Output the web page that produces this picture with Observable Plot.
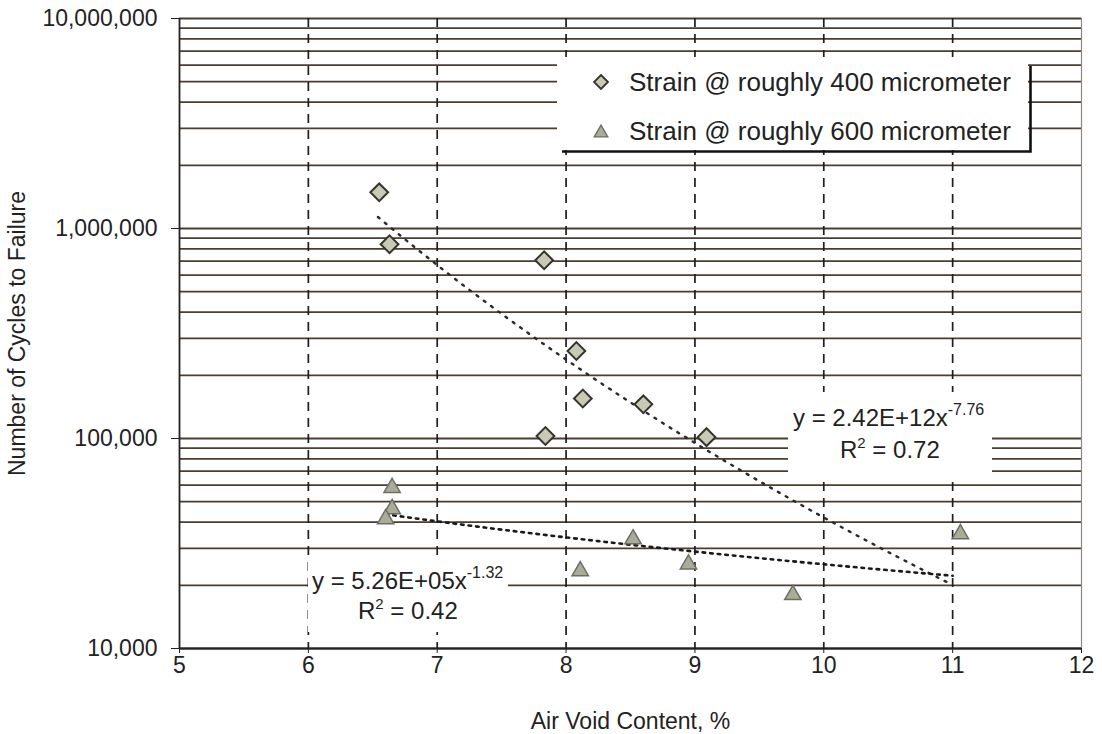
<!DOCTYPE html>
<html><head><meta charset="utf-8">
<script src="https://cdn.jsdelivr.net/npm/d3@7"></script>
<script src="https://cdn.jsdelivr.net/npm/@observablehq/plot@0.6"></script>
<style>
html,body{margin:0;padding:0;background:#fff;}
#chart{width:1102px;height:734px;}
</style></head><body><div id="chart"></div>
<script>
// ---- data ----
const seriesNames = ["Strain @ roughly 400 micrometer", "Strain @ roughly 600 micrometer"];
const airVoid400 = [6.55, 6.63, 7.83, 8.08, 8.13, 8.60, 7.84, 9.09];
const cycles400  = [1487000, 841000, 706000, 261000, 155000, 145500, 102800, 101500];
const airVoid600 = [6.65, 6.65, 6.60, 8.52, 8.11, 8.95, 9.76, 11.06];
const cycles600  = [58300, 46200, 41400, 33200, 23400, 25200, 18000, 35100];
// displayed power-law trendlines: y = a * x^b
const fitCoef400 = [2.42e12, -7.76];
const fitCoef600 = [5.26e5, -1.32];
const fitRange400 = [6.54, 11];
const fitRange600 = [6.6, 11];
const fitEq400 = ["y = 2.42E+12x", "-7.76", "0.72"];
const fitEq600 = ["y = 5.26E+05x", "-1.32", "0.42"];
const xTicks = [5, 6, 7, 8, 9, 10, 11, 12];
const xGridLines = [6, 7, 8, 9, 10, 11];
const yTicks = [1e4, 1e5, 1e6, 1e7];
const xDomain = [5, 12];
const yDomain = [1e4, 1e7];
const xLabel = "Air Void Content, %";
const yLabel = "Number of Cycles to Failure";

// ---- derived tables ----
const pts400 = airVoid400.map((x, i) => ({x, y: cycles400[i]}));
const pts600 = airVoid600.map((x, i) => ({x, y: cycles600[i]}));
const yGrid = [];
for (const d of [1e4, 1e5, 1e6]) for (let k = 1; k <= 9; k++) yGrid.push(k * d);
yGrid.push(1e7);
function trend([a, b], [x0, x1]) {
  const n = 80;
  return d3.range(n + 1).map(i => { const x = x0 + (x1 - x0) * i / n; return {x, y: a * Math.pow(x, b)}; });
}
const trend400 = trend(fitCoef400, fitRange400);
const trend600 = trend(fitCoef600, fitRange600);

const W = 1102, H = 734, mL = 179, mR = 21, mT = 18, mB = 86;
const FONT = "'Liberation Sans', Arial, Helvetica, sans-serif";
const INK = "#222";

const chart = Plot.plot({
  width: W, height: H,
  marginLeft: mL, marginRight: mR, marginTop: mT, marginBottom: mB,
  style: {fontFamily: FONT, fontSize: "23px", color: INK, background: "#fff", overflow: "visible"},
  x: {domain: xDomain},
  y: {type: "log", domain: yDomain},
  marks: [
    Plot.ruleY(yGrid, {stroke: "#4a3d31", strokeWidth: 1.8}),
    Plot.ruleX(xGridLines, {stroke: "#1e1e1e", strokeWidth: 1.7, strokeDasharray: "9,7"}),
    Plot.ruleX([xDomain[1]], {stroke: "#8c8a80", strokeWidth: 1.2}),
    Plot.line(trend400, {x: "x", y: "y", stroke: "#2a2a2a", strokeWidth: 2.4, strokeDasharray: "2,7", className: "trendfirst"}),
    Plot.line(trend600, {x: "x", y: "y", stroke: "#1a1a1a", strokeWidth: 2.6, strokeDasharray: "2.6,5"}),
    Plot.dot(pts400, {x: "x", y: "y", symbol: "diamond2", r: 8, fill: "#c8cab6", stroke: "#35332a", strokeWidth: 2}),
    Plot.dot(pts600, {x: "x", y: "y", symbol: "triangle2", r: 7.8, fill: "#a9ac98", stroke: "#6e6f62", strokeWidth: 1.5}),
    Plot.ruleY([yDomain[0]], {stroke: "#222", strokeWidth: 1.8}),
    Plot.ruleX([xDomain[0]], {stroke: "#222", strokeWidth: 1.8}),
    Plot.axisY({ticks: yTicks, tickFormat: d3.format(","), tickSize: 8, tickPadding: 14,
      label: yLabel, labelAnchor: "center", labelOffset: 171, labelArrow: "none", fill: INK}),
    Plot.axisX({ticks: xTicks, tickFormat: d => String(d), tickSize: 5, tickPadding: 3,
      label: xLabel, labelAnchor: "center", labelOffset: 80, labelArrow: "none", fill: INK})
  ]
});
document.getElementById("chart").appendChild(chart);

// ---- overlays: legend box and equation labels (white boxes hide gridlines) ----
const svg = d3.select(chart);
const firstTrend = chart.querySelector(".trendfirst");
function boxLayer() {
  const g = document.createElementNS("http://www.w3.org/2000/svg", "g");
  chart.insertBefore(g, firstTrend);
  return d3.select(g);
}
// legend
const lg = boxLayer();
lg.append("rect").attr("x", 557).attr("y", 57).attr("width", 471).attr("height", 93).attr("fill", "#fff");
lg.append("path").attr("d", "M562,151.5H1030.5V66").attr("fill", "none").attr("stroke", "#111").attr("stroke-width", 2.6);
const leg = svg.append("g").attr("font-family", FONT).attr("font-size", 26).attr("fill", INK).attr("text-anchor", "start");
leg.append("path").attr("transform", "translate(601,82)").attr("d", d3.symbol(d3.symbolDiamond2, 125)())
  .attr("fill", "#c8cab6").attr("stroke", "#35332a").attr("stroke-width", 1.8);
leg.append("path").attr("transform", "translate(601,133)").attr("d", d3.symbol(d3.symbolTriangle2, 130)())
  .attr("fill", "#a9ac98").attr("stroke", "#6e6f62").attr("stroke-width", 1.4);
leg.append("text").attr("x", 629).attr("y", 91).text(seriesNames[0]);
leg.append("text").attr("x", 629).attr("y", 140).text(seriesNames[1]);

// equation labels
function eqLabel(box, x1, y1, x2, y2, eq) {
  const b = boxLayer();
  b.append("rect").attr("x", box[0]).attr("y", box[1]).attr("width", box[2]).attr("height", box[3]).attr("fill", "#fff");
  const g = svg.append("g").attr("font-family", FONT).attr("font-size", 24).attr("fill", INK).attr("text-anchor", "start");
  const t1 = g.append("text").attr("x", x1).attr("y", y1);
  t1.append("tspan").text(eq[0]);
  t1.append("tspan").attr("dy", -11).attr("font-size", 16).text(eq[1]);
  const t2 = g.append("text").attr("x", x2).attr("y", y2);
  t2.append("tspan").text("R");
  t2.append("tspan").attr("dy", -10).attr("font-size", 15).text("2");
  t2.append("tspan").attr("dy", 10).text(" = " + eq[2]);
}
eqLabel([788, 392, 204, 86], 793, 426, 840, 458, fitEq400);
eqLabel([308, 560, 200, 72], 312, 589, 358, 619, fitEq600);
</script></body></html>
